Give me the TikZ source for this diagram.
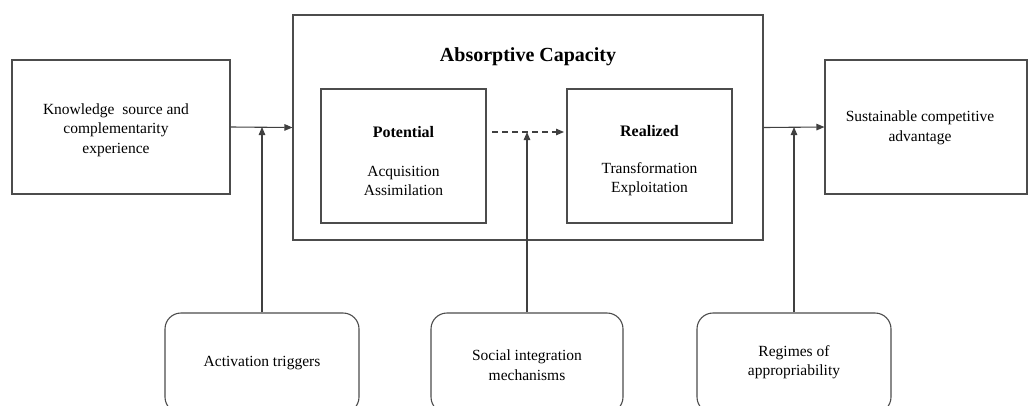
\documentclass[tikz,border=0pt]{standalone}
\usepackage{fontspec}
\setmainfont{Liberation Serif}
\usetikzlibrary{arrows.meta}
\begin{document}
\begin{tikzpicture}[x=1pt,y=-1pt,
  txt/.style={font=\fontsize{15.5}{19.5}\selectfont,align=center},
  box/.style={draw=black!70,line width=1.1pt,inner sep=0pt},
  rbox/.style={box,rounded corners=16pt},
  arr/.style={draw=black!75,line width=1.1pt,-{Triangle[length=8pt,width=6.5pt]}}]
\useasboundingbox (0,0) rectangle (1030,405);
\clip (0,0) rectangle (1030,405);
% boxes
\node[box,minimum width=218pt,minimum height=134pt] (src) at (121,127) {};
\node[txt] (srct) at (116,130) {Knowledge \ source and\\complementarity\\experience};
\node[box,minimum width=470pt,minimum height=225pt] (ac) at (528,127.5) {};
\node[font=\fontsize{20}{24}\selectfont\bfseries] (act) at (528,57) {Absorptive Capacity};
\node[box,minimum width=165pt,minimum height=134pt] (pot) at (403.5,156) {};
\node[txt,font=\fontsize{16}{20}\selectfont\bfseries] (pott) at (403.5,132) {Potential};
\node[txt] (potx) at (403.5,181) {Acquisition\\Assimilation};
\node[box,minimum width=165pt,minimum height=134pt] (rea) at (649.5,156) {};
\node[txt,font=\fontsize{16}{20}\selectfont\bfseries] (reat) at (649.5,131) {Realized};
\node[txt] (reax) at (649.5,179) {Transformation\\Exploitation};
\node[box,minimum width=202pt,minimum height=134pt] (sca) at (926,127) {};
\node[txt] (scat) at (920,128) {Sustainable competitive\\advantage};
% rounded boxes
\node[rbox,minimum width=194pt,minimum height=100pt] (trig) at (262,363) {};
\node[txt] (trigt) at (262,363) {Activation triggers};
\node[rbox,minimum width=192pt,minimum height=100pt] (soc) at (527,363) {};
\node[txt] (soct) at (527,365) {Social integration\\mechanisms};
\node[rbox,minimum width=194pt,minimum height=100pt] (reg) at (794,363) {};
\node[txt] (regt) at (794,362) {Regimes of\\appropriability};
% connectors
\coordinate (ds) at (492,132);
\coordinate (dm) at (527,132);
\coordinate (de) at (564,132);
\draw[arr] (src.east) -- (ac.west);
\draw[arr] (trig.north) -- (trig.north |- src.east);
\draw[arr,dashed,dash pattern=on 6pt off 4pt] (ds) -- (de);
\draw[arr] (soc.north) -- (dm);
\draw[arr] (ac.east) -- (sca.west);
\draw[arr] (reg.north) -- (reg.north |- sca.west);
\end{tikzpicture}
\end{document}
